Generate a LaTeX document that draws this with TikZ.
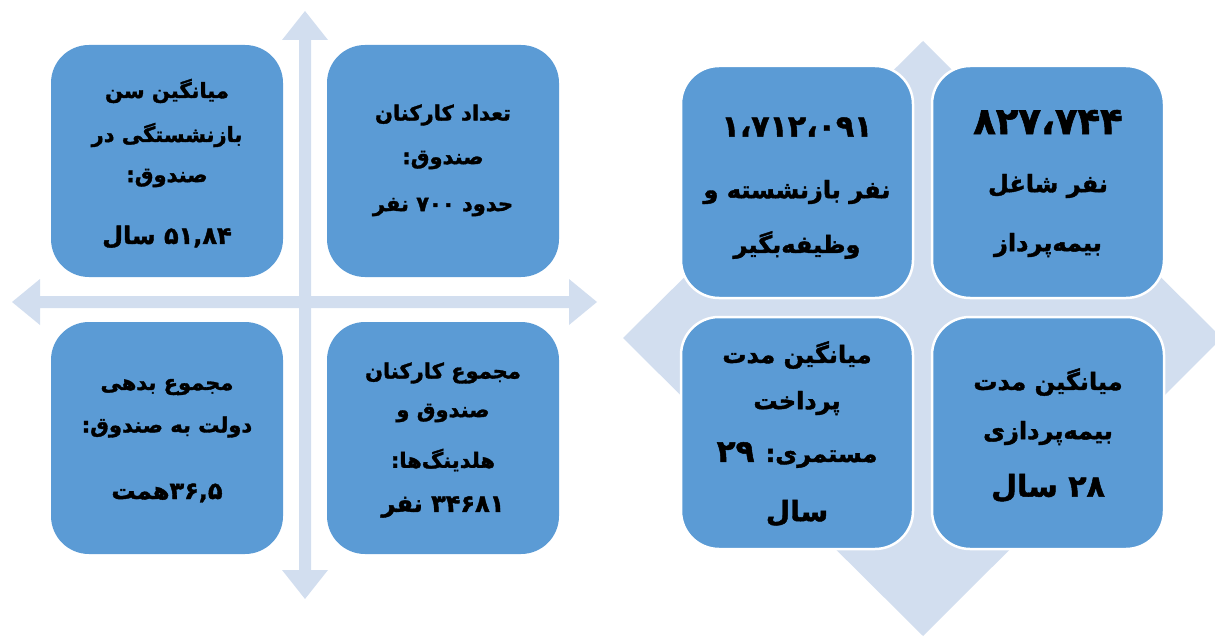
\documentclass[tikz,border=0pt]{standalone}
\usepackage{fontspec}
\TeXXeTstate=1
\newfontfamily\fa[Script=Arabic, BoldFeatures={FakeBold=1.6}]{DejaVu Sans}
\definecolor{boxblue}{RGB}{91,155,213}
\definecolor{lightblue}{RGB}{210,222,239}
\tikzset{
  card/.style={fill=boxblue, rounded corners=38pt, minimum width=232pt, minimum height=232pt, inner sep=0pt},
  rcard/.style={card, draw=white, line width=2.5pt},
  lt/.style={inner sep=0pt, text=black, font=\fa\bfseries\fontsize{21}{23}\selectfont},
  ln/.style={inner sep=0pt, text=black, font=\fa\bfseries\fontsize{24}{26}\selectfont},
  rt/.style={inner sep=0pt, text=black, font=\fa\bfseries\fontsize{24}{26}\selectfont},
  bignum/.style={inner sep=0pt, text=black, font=\fa\bfseries\fontsize{34}{36}\selectfont},
  deco/.style={fill=lightblue, draw=none}
}
\begin{document}
\begin{tikzpicture}[x=1pt,y=-1pt]
\useasboundingbox (0,0) rectangle (1215,639);
\clip (0,0) rectangle (1215,639);
% ---------- left: cross arrows ----------
\coordinate (cc) at (305,302);
\fill[deco] (299,40) -- (282,40) -- (305,11) -- (328,40) -- (311,40) -- (311,570) -- (328,570) -- (305,599) -- (282,570) -- (299,570) -- cycle;
\fill[deco] (40,296) -- (40,279) -- (12,302) -- (40,325) -- (40,308) -- (569,308) -- (569,325) -- (597,302) -- (569,279) -- (569,296) -- cycle;
% left boxes
\node[card] (lTL) at (167,161) {};
\node[card] (lTR) at (443,161) {};
\node[card] (lBL) at (167,438) {};
\node[card] (lBR) at (443,438) {};
% left texts
\node[lt] (a1) at (167,91) {\beginR میانگین سن\endR};
\node[lt] (a2) at (167,135) {\beginR بازنشستگی در\endR};
\node[lt] (a3) at (167,178) {\beginR صندوق:\endR};
\node[ln] (a4) at (167,237) {\beginR ۵۱,۸۴ سال\endR};
\node[lt] (b1) at (443,115) {\beginR تعداد کارکنان\endR};
\node[lt] (b2) at (443,160) {\beginR صندوق:\endR};
\node[lt] (b3) at (443,207) {\beginR حدود ۷۰۰ نفر\endR};
\node[lt] (c1) at (167,387) {\beginR مجموع بدهی\endR};
\node[lt] (c2) at (167,427) {\beginR دولت به صندوق:\endR};
\node[ln] (c3) at (167,493) {\beginR ۳۶,۵همت\endR};
\node[lt] (d1) at (443,373) {\beginR مجموع کارکنان\endR};
\node[lt] (d2) at (443,413) {\beginR صندوق و\endR};
\node[lt] (d3) at (443,460) {\beginR هلدینگ‌ها:\endR};
\node[ln] (d4) at (443,507) {\beginR ۳۴۶۸۱ نفر\endR};
% ---------- right: diamond ----------
\fill[deco] (923,41) -- (623,338) -- (923,636) -- (1222,338) -- cycle;
\node[rcard] (rTL) at (797,182) {};
\node[rcard] (rTR) at (1048,182) {};
\node[rcard] (rBL) at (797,433) {};
\node[rcard] (rBR) at (1048,433) {};
\node[bignum, font=\fa\bfseries\fontsize{30}{32}\selectfont] (e1) at (797,127) {\beginR ۱،۷۱۲،۰۹۱\endR};
\node[rt] (e2) at (797,192) {\beginR نفر بازنشسته و\endR};
\node[rt] (e3) at (797,245) {\beginR وظیفه‌بگیر\endR};
\node[bignum, font=\fa\bfseries\fontsize{37}{39}\selectfont] (f1) at (1048,122) {\beginR ۸۲۷،۷۴۴\endR};
\node[rt] (f2) at (1048,186) {\beginR نفر شاغل\endR};
\node[rt] (f3) at (1048,245) {\beginR بیمه‌پرداز\endR};
\node[rt] (g1) at (797,355) {\beginR میانگین مدت\endR};
\node[rt] (g2) at (797,403) {\beginR پرداخت\endR};
\node[rt] (g3) at (797,455) {\beginR مستمری: {\fontsize{31}{33}\selectfont ۲۹}\endR};
\node[rt, font=\fa\bfseries\fontsize{28}{30}\selectfont] (g4) at (797,513) {\beginR سال\endR};
\node[rt] (h1) at (1048,382) {\beginR میانگین مدت\endR};
\node[rt] (h2) at (1048,433) {\beginR بیمه‌پردازی\endR};
\node[bignum, font=\fa\bfseries\fontsize{30}{32}\selectfont] (h3) at (1048,488) {\beginR ۲۸ سال\endR};
\end{tikzpicture}
\end{document}
